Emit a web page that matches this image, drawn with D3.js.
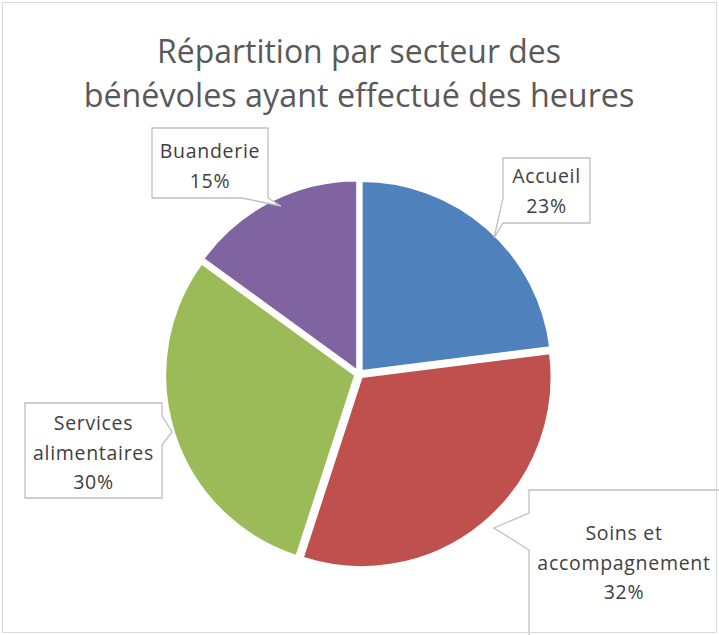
<!DOCTYPE html>
<html>
<head>
<meta charset="utf-8">
<script src="https://cdn.jsdelivr.net/npm/d3@7"></script>
<style>
  body { margin: 0; background: #fff; }
  svg { display: block; }
</style>
</head>
<body>
<div id="visualization"></div>
<script>
// Data
const categories = ['Accueil', 'Soins et accompagnement', 'Services alimentaires', 'Buanderie'];
const values = [23, 32, 30, 15];
const colors = ['#4F81BD', '#C0504D', '#9BBB59', '#8064A2'];
const labelLines = [['Accueil'], ['Soins et', 'accompagnement'], ['Services', 'alimentaires'], ['Buanderie']];
const titleLines = ['Répartition par secteur des', 'bénévoles ayant effectué des heures'];

document.addEventListener('DOMContentLoaded', () => {
    d3.select('#visualization').html('');

    const width = 719;
    const height = 635;
    const cx = 359, cy = 374, radius = 190, explode = 4;
    const font = "'Open Sans', 'Noto Sans', sans-serif";

    const svg = d3.select('#visualization')
        .append('svg')
        .attr('width', width)
        .attr('height', height);

    // Chart border
    svg.append('rect')
        .attr('x', 2.5).attr('y', 2.5)
        .attr('width', 714).attr('height', 630)
        .attr('fill', '#fff')
        .attr('stroke', '#d9d9d9');

    // Title, scaled to the widths seen in the picture
    const titleWidths = [404, 551];
    const titleBase = [63, 107];
    titleLines.forEach((t, i) => {
        const txt = svg.append('text')
            .attr('x', 359).attr('y', titleBase[i])
            .attr('text-anchor', 'middle')
            .attr('font-family', font)
            .attr('font-size', 30)
            .attr('fill', '#595959')
            .text(t);
        const w = txt.node().getComputedTextLength();
        txt.attr('font-size', 30 * titleWidths[i] / w);
    });

    const pie = d3.pie().sort(null).value(d => d)(values);
    const arc = d3.arc().innerRadius(0).outerRadius(radius);

    const g = svg.append('g').attr('transform', `translate(${cx},${cy})`);
    g.selectAll('path')
        .data(pie)
        .enter()
        .append('path')
        .attr('transform', d => {
            const a = (d.startAngle + d.endAngle) / 2;
            return `translate(${Math.sin(a) * explode},${-Math.cos(a) * explode})`;
        })
        .attr('d', arc)
        .attr('fill', (d, i) => colors[i])
        .attr('stroke', '#fff')
        .attr('stroke-width', 2);

    // Callout layout (box, pointer base on a side, pointer tip)
    const callouts = [
        { x: 503, y: 158, w: 87, h: 65, side: 'left', b0: 198, b1: 223, tip: [494, 238], base: 183 },
        { x: 529, y: 490, w: 200, h: 150, side: 'left', b0: 513, b1: 550, tip: [494, 528], base: 540 },
        { x: 25, y: 403, w: 137, h: 95, side: 'right', b0: 416, b1: 445, tip: [172, 432], base: 430 },
        { x: 152, y: 128, w: 116, h: 70, side: 'bottom', b0: 242, b1: 268, tip: [281, 206], base: 158 }
    ];

    function calloutPath(c) {
        const x0 = c.x, y0 = c.y, x1 = c.x + c.w, y1 = c.y + c.h;
        const p = d3.path();
        if (c.side === 'left') {
            p.moveTo(x0, y0); p.lineTo(x1, y0); p.lineTo(x1, y1); p.lineTo(x0, y1);
            p.lineTo(x0, c.b1); p.lineTo(c.tip[0], c.tip[1]); p.lineTo(x0, c.b0);
        } else if (c.side === 'right') {
            p.moveTo(x0, y0); p.lineTo(x1, y0); p.lineTo(x1, c.b0);
            p.lineTo(c.tip[0], c.tip[1]); p.lineTo(x1, c.b1); p.lineTo(x1, y1); p.lineTo(x0, y1);
        } else {
            p.moveTo(x0, y0); p.lineTo(x1, y0); p.lineTo(x1, y1);
            p.lineTo(c.tip[0], c.tip[1]); p.lineTo(c.b0, y1); p.lineTo(x0, y1);
        }
        p.closePath();
        return p.toString();
    }

    const labels = svg.append('g');
    callouts.forEach((c, i) => {
        labels.append('path')
            .attr('d', calloutPath(c))
            .attr('fill', '#fff')
            .attr('stroke', '#bfbfbf')
            .attr('stroke-width', 1.3);
        const lines = labelLines[i].concat([values[i] + '%']);
        const tx = i === 1 ? 624 : c.x + c.w / 2;
        lines.forEach((ln, j) => {
            labels.append('text')
                .attr('x', tx)
                .attr('y', c.base + j * (i === 0 || i === 3 ? 30 : 29.5))
                .attr('text-anchor', 'middle')
                .attr('font-family', font)
                .attr('font-size', 19.5)
                .attr('letter-spacing', 0.7)
                .attr('fill', '#404040')
                .text(ln);
        });
    });

    // Redraw border on top so the clipped callout stays inside the frame
    svg.append('rect')
        .attr('x', 2.5).attr('y', 2.5)
        .attr('width', 714).attr('height', 630)
        .attr('fill', 'none')
        .attr('stroke', '#d9d9d9');
});
</script>
</body>
</html>
